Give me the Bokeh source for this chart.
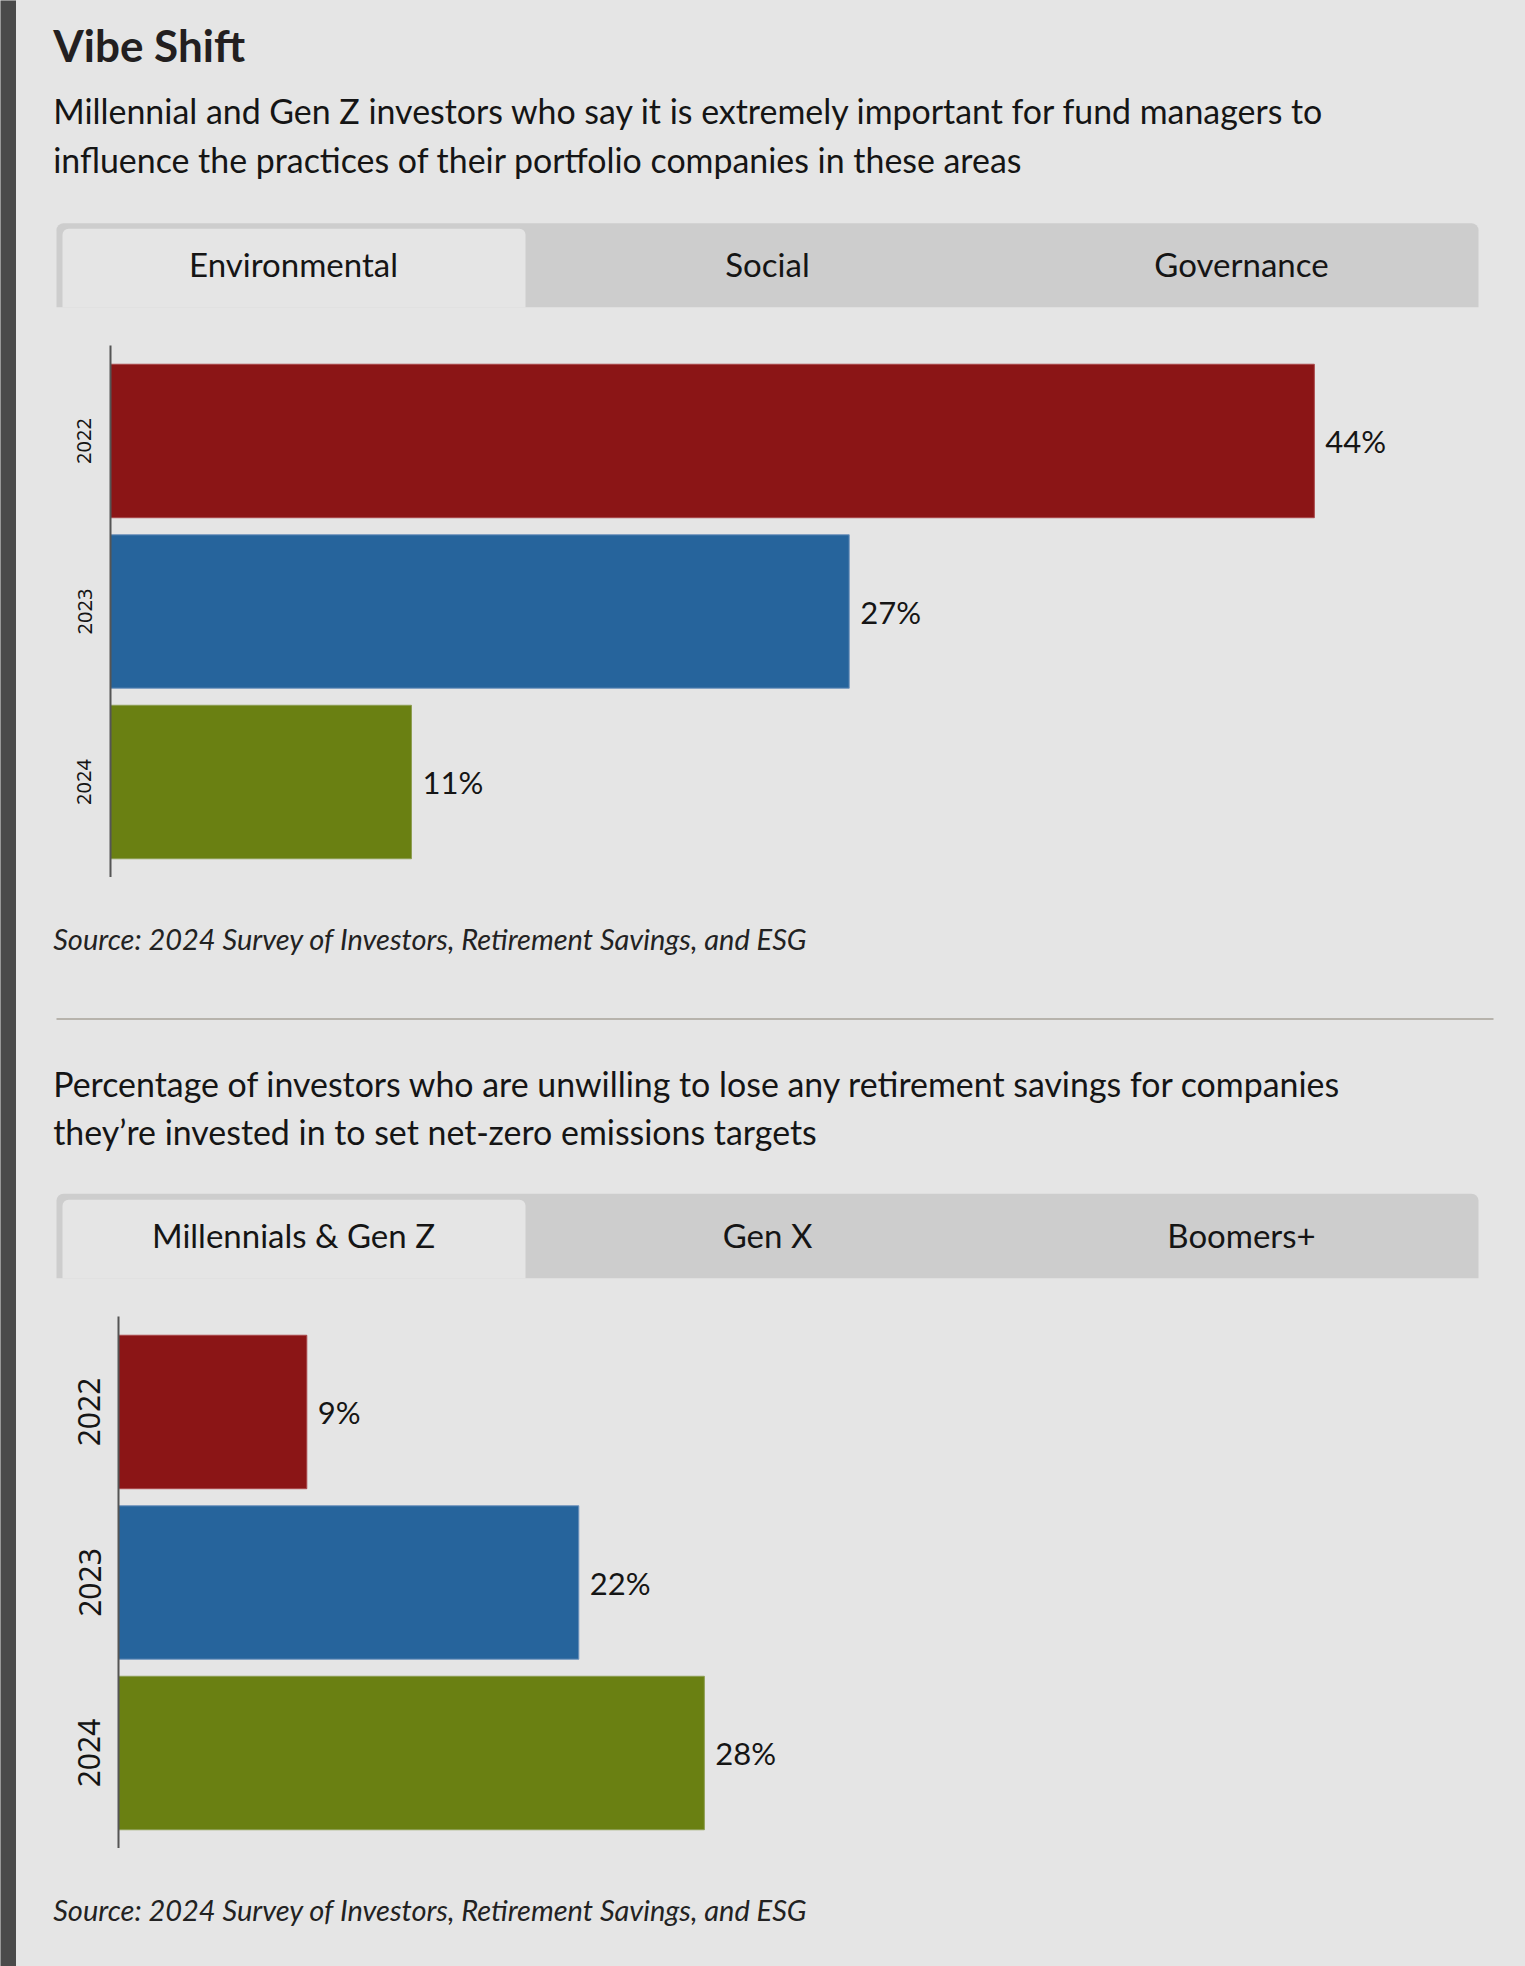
from bokeh.plotting import figure
from bokeh.models import Range1d, FactorRange
from bokeh.layouts import row, column
from bokeh.core.properties import value
from bokeh.embed import file_html
from bokeh.resources import INLINE

# ---------------- data ----------------
years = ["2022", "2023", "2024"]
bar_colors = ["#8b1516", "#26649c", "#6a8012"]
edge_colors = ["#a9474a", "#6f93bd", "#8d9d52"]

esg_tabs = ["Environmental", "Social", "Governance"]
env_values = [44, 27, 11]

gen_tabs = ["Millennials & Gen Z", "Gen X", "Boomers+"]
unwilling_values = [9, 22, 28]

title_text = "Vibe Shift"
subtitle1 = ["Millennial and Gen Z investors who say it is extremely important for fund managers to",
             "influence the practices of their portfolio companies in these areas"]
subtitle2 = ["Percentage of investors who are unwilling to lose any retirement savings for companies",
             "they\u2019re invested in to set net-zero emissions targets"]
source_text = "Source: 2024 Survey of Investors, Retirement Savings, and ESG"

# ---------------- styling ----------------
BG = "#e5e5e5"
STRIP = "#4a4a4a"
TAB_BG = "#cdcdcd"
TXT = "#151515"
FONT = "Lato"
STRIP_W = 16
W = 1525 - STRIP_W   # column width
BASE_K = 0.42        # alphabetic baseline correction (fraction of font size)


def text_fig(h):
    p = figure(width=W, height=h, x_range=Range1d(0, W), y_range=Range1d(h, 0),
               output_backend="svg", toolbar_location=None, min_border=0)
    p.frame_align = False
    p.axis.visible = False
    p.grid.visible = False
    p.outline_line_color = None
    p.background_fill_color = BG
    p.border_fill_color = BG
    return p


def add_text(p, x, y, lines, size, style="normal", align="left", color=TXT, spacing=0.0):
    n = len(lines)
    xs = x if isinstance(x, list) else [x] * n
    ys = y if isinstance(y, list) else [y + i * spacing for i in range(n)]
    ys = [v - BASE_K * size for v in ys]
    p.text(x=xs, y=ys, text=lines, text_font=value(FONT), text_font_size=f"{size}px",
           text_font_style=style, text_align=align, text_baseline="alphabetic",
           text_color=color)


def add_tabs(p, top_outer, top_inner, bottom, baseline, labels):
    p.quad(left=[40], right=[1462], top=[top_outer], bottom=[bottom],
           fill_color=TAB_BG, line_color=None, border_radius=(7, 7, 0, 0))
    p.quad(left=[46], right=[509], top=[top_inner], bottom=[bottom],
           fill_color=BG, line_color=None, border_radius=(6, 6, 0, 0))
    tab_w = (1462 - 40) / 3
    centers = [40 + tab_w * (i + 0.5) for i in range(len(labels))]
    add_text(p, centers, [baseline] * len(labels), labels, 33, align="center")


def bar_fig(h, values, xmax, left_border, label_size, standoff):
    factors = list(reversed(years))
    p = figure(width=W, height=h, y_range=FactorRange(factors=factors, range_padding=0.04),
               x_range=Range1d(0, xmax), output_backend="svg", toolbar_location=None,
               min_border_left=left_border, min_border_right=47,
               min_border_top=0, min_border_bottom=0)
    p.frame_align = False
    p.background_fill_color = BG
    p.border_fill_color = BG
    p.outline_line_color = None
    p.grid.visible = False
    p.xaxis.visible = False
    ax = p.yaxis[0]
    ax.axis_line_color = "#555555"
    ax.axis_line_width = 2
    ax.major_tick_line_color = None
    ax.minor_tick_line_color = None
    ax.major_label_orientation = "vertical"
    ax.major_label_text_font = "Noto Sans"
    ax.major_label_text_font_size = label_size
    ax.major_label_text_color = TXT
    ax.major_label_standoff = standoff
    p.hbar(y=years, left=0, right=values, height=0.9, fill_color=bar_colors,
           line_color=edge_colors, line_width=1)
    p.text(x=values, y=years, text=[f"{v}%" for v in values], x_offset=11,
           text_font=value(FONT), text_font_size="31px", text_baseline="middle",
           text_align="left", text_color=TXT)
    return p


# header (page y 0 -> 345)
f1 = text_fig(345)
add_text(f1, 36.7, 63.3, [title_text], 44, style="bold", color="#231f20")
add_text(f1, 36.7, 125, subtitle1, 33.9, spacing=48.3)
add_tabs(f1, 222.7, 228.3, 306.7, 277.3, esg_tabs)

# chart 1 (page y 345 -> 877)
f2 = bar_fig(532, env_values, 50, 94, "20px", 13)

# middle (page y 877 -> 1316)
f3 = text_fig(439)
add_text(f3, 36.7, 73, [source_text], 29, style="italic", color="#222222")
f3.segment(x0=[40], y0=[141.5], x1=[1477], y1=[141.5], line_color="#b7b3ac", line_width=2)
add_text(f3, 36.7, 220.7, subtitle2, 33.9, spacing=48.3)
add_tabs(f3, 316.3, 322.3, 400.7, 371.3, gen_tabs)

# chart 2 (page y 1316 -> 1848)
f4 = bar_fig(532, unwilling_values, 65, 102, "30px", 12)

# footer (page y 1848 -> 1966)
f5 = text_fig(118)
add_text(f5, 36.7, 73, [source_text], 29, style="italic", color="#222222")

strip = figure(width=STRIP_W, height=1966, x_range=Range1d(0, 1), y_range=Range1d(0, 1),
               output_backend="svg", toolbar_location=None, min_border=0)
strip.frame_align = False
strip.axis.visible = False
strip.grid.visible = False
strip.outline_line_color = None
strip.background_fill_color = STRIP
strip.border_fill_color = STRIP

col = column(f1, f2, f3, f4, f5, styles={"background-color": BG})
layout = row(strip, col, styles={"background-color": BG})

open("out.html", "w").write(file_html(layout, INLINE))
